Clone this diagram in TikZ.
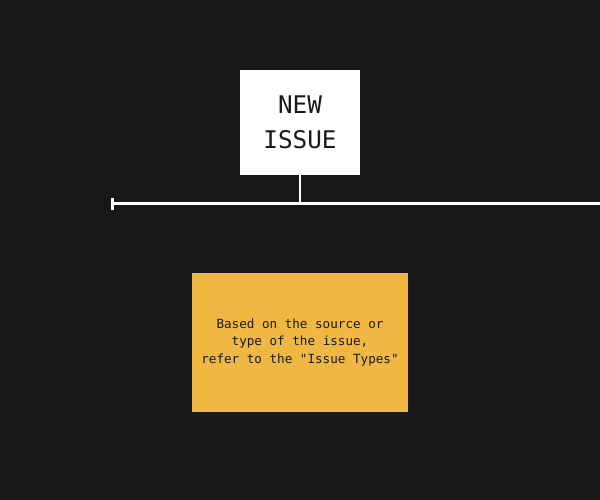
\documentclass[tikz,border=0pt]{standalone}
\usepackage{fontspec}
\setmonofont{DejaVu Sans Mono}
\usepackage{xcolor}
\usetikzlibrary{positioning,arrows.meta}

\definecolor{bg}{HTML}{181818}
\definecolor{note}{HTML}{F0B742}
\definecolor{ink}{HTML}{1A1A1A}

\begin{document}
\begin{tikzpicture}[x=1pt, y=-1pt,
    issuebox/.style={fill=white, minimum width=120pt, minimum height=105pt, inner sep=0pt,
                     align=center, font=\ttfamily\fontsize{24.3}{35}\selectfont, text=ink},
    notebox/.style={fill=note, minimum width=216pt, minimum height=139pt, inner sep=0pt,
                    align=center, font=\ttfamily\fontsize{12.6}{17.5}\selectfont, text=ink}]
      \fill [bg] (0,0) rectangle (600,500);
      \useasboundingbox (0,0) rectangle (600,500);
      \node [issuebox]  (issue) at (300.0, 122.5) {NEW\\ISSUE};
      \coordinate       (lstart) at (111.0, 203.5);
      \coordinate       (lend)   at (600.0, 203.5);
      \node [notebox]   (note) at (300.0, 342.5) {Based on the source or\\type of the issue,\\refer to the "Issue Types"};
      \draw [white, line width=3pt, {Bar[width=12pt, line width=3pt]}-] (lstart) -- (lend);
      \draw [white, line width=2pt] (issue.south) -- (issue.south |- lstart);
\end{tikzpicture}
\end{document}
